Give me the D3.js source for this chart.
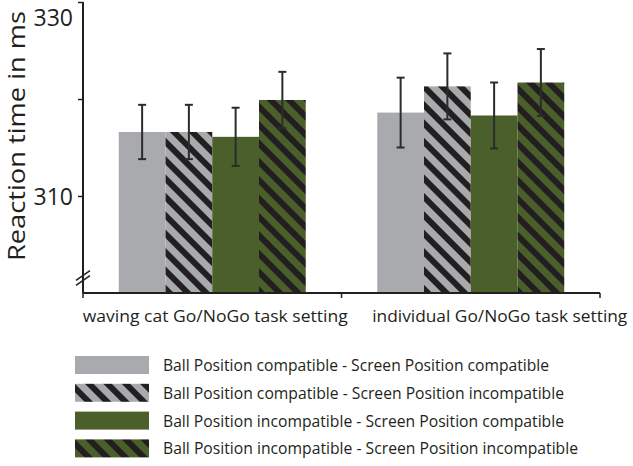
<!DOCTYPE html>
<html>
<head>
<meta charset="utf-8">
<script src="https://cdn.jsdelivr.net/npm/d3@7"></script>
<style>
  body { margin: 0; background: #fff; }
  text { font-family: "Open Sans", "Noto Sans", sans-serif; fill: #231f20; }
</style>
</head>
<body>
<div id="chart"></div>
<script>
// reaction times per task setting and condition

var groups = ["waving cat Go/NoGo task setting", "individual Go/NoGo task setting"];
var conditions = [
    "Ball Position compatible - Screen Position compatible",
    "Ball Position compatible - Screen Position incompatible",
    "Ball Position incompatible - Screen Position compatible",
    "Ball Position incompatible - Screen Position incompatible"
];
var meansCat = [316.6, 316.6, 316.1, 319.9];
var errCat = [2.8, 2.8, 3.0, 2.9];
var meansInd = [318.6, 321.3, 318.3, 321.7];
var errInd = [3.6, 3.4, 3.4, 3.45];
var yTicks = [310, 320, 330];

var width = 633, height = 466;
var gray = "#a8aaad", green = "#4b5f2a", dark = "#231f20";
var fills = ["url(#solidGray)", "url(#hatchGray)", "url(#solidGreen)", "url(#hatchGreen)"];

var svg = d3.select("#chart").append("svg")
    .attr("width", width)
    .attr("height", height);

// patterns
var defs = svg.append("defs");
function hatch(id, bg) {
    var p = defs.append("pattern")
        .attr("id", id)
        .attr("patternUnits", "userSpaceOnUse")
        .attr("width", 13).attr("height", 13)
        .attr("patternTransform", "rotate(45)");
    p.append("rect").attr("width", 13).attr("height", 13).attr("fill", bg);
    p.append("rect").attr("width", 13).attr("height", 6).attr("fill", dark);
}
hatch("hatchGray", gray);
hatch("hatchGreen", green);
defs.append("pattern").attr("id", "solidGray").attr("patternUnits", "userSpaceOnUse")
    .attr("width", 10).attr("height", 10)
    .append("rect").attr("width", 10).attr("height", 10).attr("fill", gray);
defs.append("pattern").attr("id", "solidGreen").attr("patternUnits", "userSpaceOnUse")
    .attr("width", 10).attr("height", 10)
    .append("rect").attr("width", 10).attr("height", 10).attr("fill", green);

// scales
var y = d3.scaleLinear().domain([300, 330]).range([293, 2]);
var x0 = d3.scaleBand().domain(groups).range([83, 600]);
var x1 = d3.scaleBand().domain(conditions).range([0, x0.bandwidth()])
    .paddingInner(0).paddingOuter(0.765);

var data = groups.map(function(g, gi) {
    var m = gi === 0 ? meansCat : meansInd;
    var e = gi === 0 ? errCat : errInd;
    return conditions.map(function(c, ci) {
        return { group: g, cond: c, ci: ci, mean: m[ci], err: e[ci] };
    });
});

// bars
var gGroups = svg.selectAll(".grp")
    .data(data)
    .enter().append("g")
    .attr("class", "grp")
    .attr("transform", function(d, i) { return "translate(" + x0(groups[i]) + ",0)"; });

gGroups.selectAll("rect")
    .data(function(d) { return d; })
    .enter().append("rect")
    .attr("x", function(d) { return x1(d.cond); })
    .attr("width", x1.bandwidth())
    .attr("y", function(d) { return y(d.mean); })
    .attr("height", function(d) { return y(300) - y(d.mean); })
    .attr("fill", function(d) { return fills[d.ci]; });

// error bars
var eb = gGroups.selectAll(".err")
    .data(function(d) { return d; })
    .enter().append("g")
    .attr("class", "err")
    .attr("stroke", "#2b2b2b")
    .attr("stroke-width", 2);
eb.append("line")
    .attr("x1", function(d) { return x1(d.cond) + x1.bandwidth() / 2; })
    .attr("x2", function(d) { return x1(d.cond) + x1.bandwidth() / 2; })
    .attr("y1", function(d) { return y(d.mean + d.err); })
    .attr("y2", function(d) { return y(d.mean - d.err); });
eb.selectAll(".cap")
    .data(function(d) { return [d.mean + d.err, d.mean - d.err].map(function(v) { return { v: v, d: d }; }); })
    .enter().append("line")
    .attr("x1", function(c) { return x1(c.d.cond) + x1.bandwidth() / 2 - 4; })
    .attr("x2", function(c) { return x1(c.d.cond) + x1.bandwidth() / 2 + 4; })
    .attr("y1", function(c) { return y(c.v); })
    .attr("y2", function(c) { return y(c.v); });

// y axis
var yAxis = svg.append("g")
    .attr("transform", "translate(83,0)")
    .call(d3.axisLeft(y).tickValues([300].concat(yTicks)).tickSize(5)
        .tickFormat(function(d) { return d === 320 || d === 300 ? "" : d; }));
yAxis.select(".domain").attr("stroke", dark).attr("stroke-width", 2)
    .attr("d", "M0," + y(330) + "V" + y(300));
yAxis.selectAll(".tick line").attr("stroke", dark).attr("stroke-width", 1.5);
yAxis.selectAll(".tick").filter(function(d) { return d === 300; }).select("line").remove();
yAxis.selectAll(".tick text")
    .attr("x", -10)
    .style("font-size", "23px")
    .style("fill", dark)
    .attr("dy", function(d) { return d === 330 ? "1.0em" : "0.35em"; });

// axis break
[0, 5].forEach(function(off) {
    svg.append("line")
        .attr("x1", 76).attr("y1", y(301.3) + off)
        .attr("x2", 90).attr("y2", y(302.3) + off)
        .attr("stroke", dark).attr("stroke-width", 1.5);
});

// x axis
var xAxis = svg.append("g")
    .attr("transform", "translate(0," + y(300) + ")");
xAxis.append("line")
    .attr("x1", 83).attr("x2", 600)
    .attr("stroke", dark).attr("stroke-width", 2);
xAxis.selectAll(".xt")
    .data([83, x0(groups[1]), 600])
    .enter().append("line")
    .attr("x1", function(d) { return d; }).attr("x2", function(d) { return d; })
    .attr("y1", 0).attr("y2", 5)
    .attr("stroke", dark).attr("stroke-width", 1.5);

var labelShift = [3, 29];
svg.selectAll(".cat")
    .data(groups)
    .enter().append("text")
    .attr("class", "cat")
    .attr("x", function(d, i) { return x0(d) + x0.bandwidth() / 2 + labelShift[i]; })
    .attr("y", 322)
    .attr("text-anchor", "middle")
    .attr("textLength", function(d, i) { return i === 0 ? 265 : 255; })
    .attr("lengthAdjust", "spacingAndGlyphs")
    .style("font-size", "17px")
    .text(function(d) { return d; });

// y label
svg.append("text")
    .attr("transform", "translate(25,136) rotate(-90)")
    .attr("text-anchor", "middle")
    .attr("textLength", 250)
    .attr("lengthAdjust", "spacingAndGlyphs")
    .style("font-size", "23px")
    .text("Reaction time in ms");

// legend
var legendW = [386, 401, 401, 415];
var legend = svg.selectAll(".leg")
    .data(conditions)
    .enter().append("g")
    .attr("class", "leg")
    .attr("transform", function(d, i) { return "translate(75," + (356 + i * 27.8) + ")"; });
legend.append("rect")
    .attr("width", 74).attr("height", 18)
    .attr("fill", function(d, i) { return fills[i]; });
legend.append("text")
    .attr("x", 88).attr("y", 15)
    .attr("textLength", function(d, i) { return legendW[i]; })
    .attr("lengthAdjust", "spacingAndGlyphs")
    .style("font-size", "17px")
    .text(function(d) { return d; });
</script>
</body>
</html>
